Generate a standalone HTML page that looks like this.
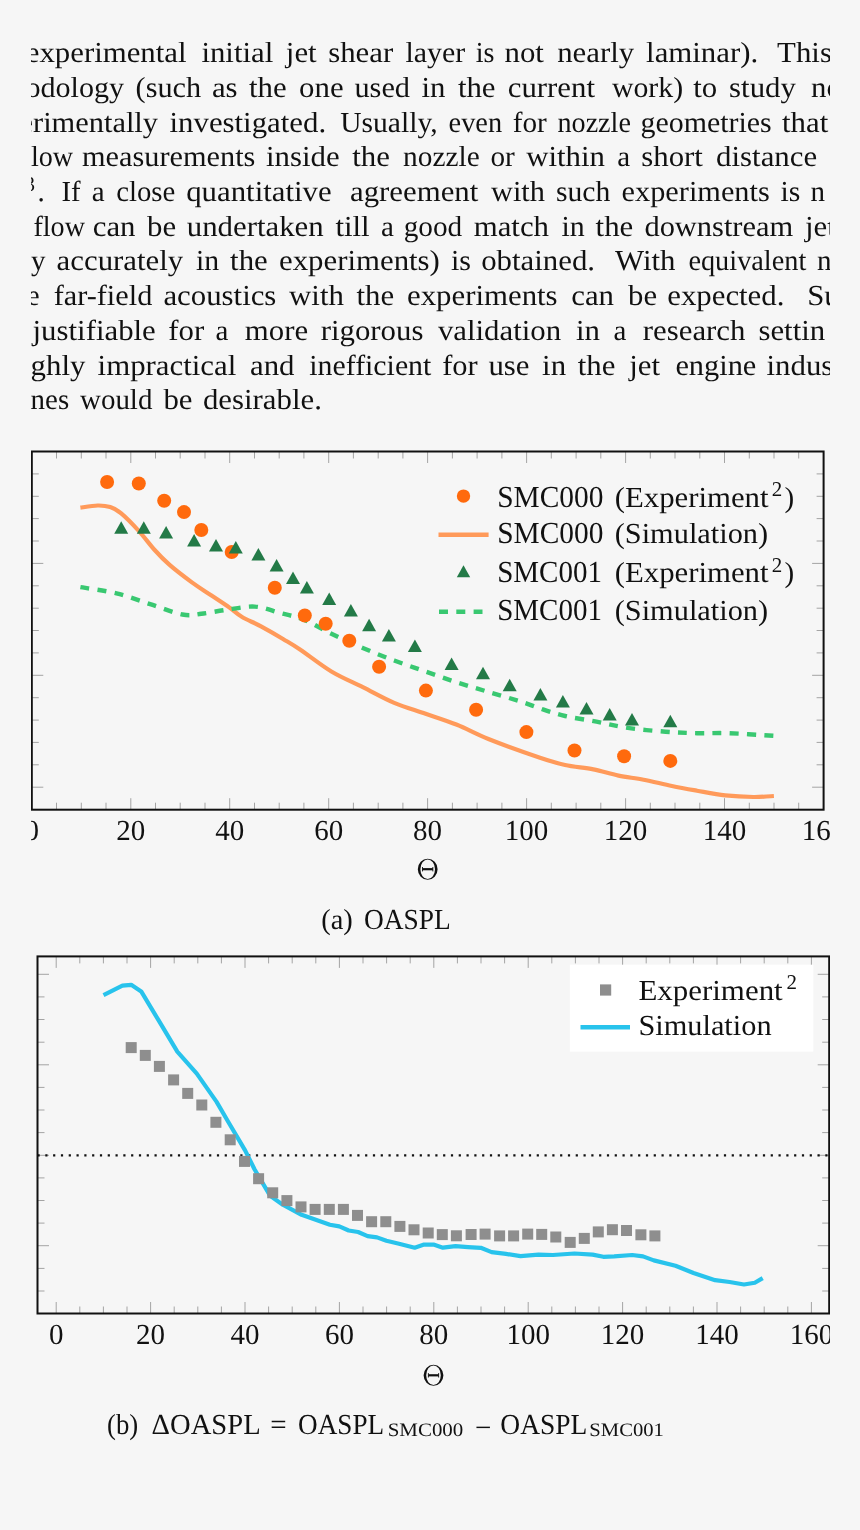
<!DOCTYPE html>
<html><head><meta charset="utf-8">
<style>
html,body{margin:0;padding:0;background:#f6f6f6;}
body{width:860px;height:1530px;overflow:hidden;position:relative;}
svg{position:absolute;left:0;top:0;will-change:transform;}
text{font-family:"Liberation Serif",serif;font-size:29px;fill:#111;text-rendering:geometricPrecision;}
.body text{letter-spacing:0.0px;}
</style></head><body>
<svg width="860" height="1530" viewBox="0 0 860 1530">
<defs><clipPath id="clip"><rect x="31" y="0" width="799" height="1530"/></clipPath></defs>
<g clip-path="url(#clip)">
<g class="body">
<text transform="matrix(1.0627 0 0 1 25.70 62.20)">experimental</text>
<text transform="matrix(1.0627 0 0 1 201.40 62.20)">initial</text>
<text transform="matrix(1.0627 0 0 1 285.86 62.20)">jet</text>
<text transform="matrix(1.0627 0 0 1 328.20 62.20)">shear</text>
<text transform="matrix(1.0310 0 0 1 405.50 62.20)">layer</text>
<text transform="matrix(0.9700 0 0 1 475.80 62.20)">is</text>
<text transform="matrix(1.0627 0 0 1 504.50 62.20)">not</text>
<text transform="matrix(1.0627 0 0 1 557.20 62.20)">nearly</text>
<text transform="matrix(1.0627 0 0 1 646.10 62.20)">laminar).</text>
<text transform="matrix(1.0627 0 0 1 777.10 62.20)">This</text>
<text transform="matrix(1.0385 0 0 1 25.40 96.90)">odology</text>
<text transform="matrix(1.0444 0 0 1 135.60 96.90)">(such</text>
<text transform="matrix(1.0627 0 0 1 211.90 96.90)">as</text>
<text transform="matrix(1.0627 0 0 1 249.00 96.90)">the</text>
<text transform="matrix(1.0627 0 0 1 299.10 96.90)">one</text>
<text transform="matrix(1.0463 0 0 1 354.40 96.90)">used</text>
<text transform="matrix(1.0627 0 0 1 421.40 96.90)">in</text>
<text transform="matrix(1.0627 0 0 1 457.90 96.90)">the</text>
<text transform="matrix(1.0627 0 0 1 507.70 96.90)">current</text>
<text transform="matrix(1.0275 0 0 1 611.90 96.90)">work)</text>
<text transform="matrix(1.0627 0 0 1 693.30 96.90)">to</text>
<text transform="matrix(1.0627 0 0 1 729.10 96.90)">study</text>
<text transform="matrix(1.0627 0 0 1 811.00 96.90)">no</text>
<text transform="matrix(1.0489 0 0 1 19.50 131.60)">erimentally</text>
<text transform="matrix(1.0627 0 0 1 169.50 131.60)">investigated.</text>
<text transform="matrix(1.0198 0 0 1 340.20 131.60)">Usually,</text>
<text transform="matrix(0.9764 0 0 1 448.60 131.60)">even</text>
<text transform="matrix(1.0059 0 0 1 512.80 131.60)">for</text>
<text transform="matrix(0.9700 0 0 1 557.50 131.60)">nozzle</text>
<text transform="matrix(1.0315 0 0 1 640.50 131.60)">geometries</text>
<text transform="matrix(1.0627 0 0 1 782.00 131.60)">that</text>
<text transform="matrix(0.9700 0 0 1 30.90 166.30)">low</text>
<text transform="matrix(1.0452 0 0 1 82.00 166.30)">measurements</text>
<text transform="matrix(1.0627 0 0 1 266.00 166.30)">inside</text>
<text transform="matrix(1.0627 0 0 1 352.30 166.30)">the</text>
<text transform="matrix(1.0118 0 0 1 403.10 166.30)">nozzle</text>
<text transform="matrix(1.0080 0 0 1 490.50 166.30)">or</text>
<text transform="matrix(1.0627 0 0 1 526.20 166.30)">within</text>
<text x="617.2" y="166.3">a</text>
<text transform="matrix(1.0627 0 0 1 641.30 166.30)">short</text>
<text transform="matrix(1.0627 0 0 1 716.10 166.30)">distance</text>
<text x="37.6" y="201.0">.</text>
<text transform="matrix(0.9900 0 0 1 61.50 201.00)">If</text>
<text x="91.8" y="201.0">a</text>
<text transform="matrix(0.9917 0 0 1 116.20 201.00)">close</text>
<text transform="matrix(1.0627 0 0 1 186.20 201.00)">quantitative</text>
<text transform="matrix(1.0627 0 0 1 350.00 201.00)">agreement</text>
<text transform="matrix(1.0462 0 0 1 491.00 201.00)">with</text>
<text transform="matrix(1.0222 0 0 1 555.90 201.00)">such</text>
<text transform="matrix(1.0451 0 0 1 621.60 201.00)">experiments</text>
<text transform="matrix(1.0263 0 0 1 780.50 201.00)">is</text>
<text x="810.5" y="201.0">n</text>
<text transform="matrix(0.9700 0 0 1 33.40 235.70)">flow</text>
<text transform="matrix(1.0627 0 0 1 92.70 235.70)">can</text>
<text transform="matrix(1.0627 0 0 1 147.10 235.70)">be</text>
<text transform="matrix(1.0627 0 0 1 186.80 235.70)">undertaken</text>
<text transform="matrix(1.0627 0 0 1 335.40 235.70)">till</text>
<text x="381.0" y="235.7">a</text>
<text transform="matrix(1.0085 0 0 1 403.70 235.70)">good</text>
<text transform="matrix(1.0627 0 0 1 473.70 235.70)">match</text>
<text transform="matrix(1.0304 0 0 1 561.40 235.70)">in</text>
<text transform="matrix(1.0627 0 0 1 595.60 235.70)">the</text>
<text transform="matrix(1.0500 0 0 1 644.40 235.70)">downstream</text>
<text transform="matrix(1.0627 0 0 1 805.06 235.70)">jet</text>
<text x="30.9" y="270.4">y</text>
<text transform="matrix(1.0627 0 0 1 56.60 270.40)">accurately</text>
<text transform="matrix(1.0261 0 0 1 196.00 270.40)">in</text>
<text transform="matrix(1.0627 0 0 1 230.10 270.40)">the</text>
<text transform="matrix(1.0627 0 0 1 279.00 270.40)">experiments)</text>
<text transform="matrix(1.0368 0 0 1 451.00 270.40)">is</text>
<text transform="matrix(1.0627 0 0 1 481.20 270.40)">obtained.</text>
<text transform="matrix(1.0627 0 0 1 615.10 270.40)">With</text>
<text transform="matrix(0.9760 0 0 1 688.40 270.40)">equivalent</text>
<text x="817.0" y="270.4">n</text>
<text x="26.8" y="305.1">e</text>
<text transform="matrix(1.0442 0 0 1 53.70 305.10)">far-field</text>
<text transform="matrix(1.0627 0 0 1 163.40 305.10)">acoustics</text>
<text transform="matrix(1.0627 0 0 1 289.10 305.10)">with</text>
<text transform="matrix(1.0627 0 0 1 356.50 305.10)">the</text>
<text transform="matrix(1.0627 0 0 1 407.00 305.10)">experiments</text>
<text transform="matrix(1.0627 0 0 1 571.20 305.10)">can</text>
<text transform="matrix(1.0593 0 0 1 628.10 305.10)">be</text>
<text transform="matrix(1.0627 0 0 1 667.20 305.10)">expected.</text>
<text transform="matrix(1.0627 0 0 1 807.20 305.10)">Su</text>
<text transform="matrix(1.0627 0 0 1 32.56 339.80)">justifiable</text>
<text transform="matrix(1.0627 0 0 1 168.30 339.80)">for</text>
<text x="215.5" y="339.8">a</text>
<text transform="matrix(1.0627 0 0 1 244.80 339.80)">more</text>
<text transform="matrix(1.0627 0 0 1 320.70 339.80)">rigorous</text>
<text transform="matrix(1.0627 0 0 1 437.90 339.80)">validation</text>
<text transform="matrix(1.0627 0 0 1 576.00 339.80)">in</text>
<text x="613.5" y="339.8">a</text>
<text transform="matrix(1.0627 0 0 1 642.80 339.80)">research</text>
<text transform="matrix(1.0627 0 0 1 758.40 339.80)">settin</text>
<text transform="matrix(1.0627 0 0 1 30.60 374.50)">ghly</text>
<text transform="matrix(1.0627 0 0 1 97.60 374.50)">impractical</text>
<text transform="matrix(1.0627 0 0 1 250.00 374.50)">and</text>
<text transform="matrix(1.0286 0 0 1 309.30 374.50)">inefficient</text>
<text transform="matrix(1.0500 0 0 1 442.20 374.50)">for</text>
<text transform="matrix(1.0627 0 0 1 488.40 374.50)">use</text>
<text transform="matrix(1.0627 0 0 1 542.10 374.50)">in</text>
<text transform="matrix(1.0627 0 0 1 577.70 374.50)">the</text>
<text transform="matrix(1.0627 0 0 1 629.16 374.50)">jet</text>
<text transform="matrix(1.0468 0 0 1 675.40 374.50)">engine</text>
<text transform="matrix(1.0627 0 0 1 766.50 374.50)">indus</text>
<text transform="matrix(0.9974 0 0 1 30.60 409.20)">nes</text>
<text transform="matrix(0.9986 0 0 1 80.00 409.20)">would</text>
<text transform="matrix(1.0627 0 0 1 163.40 409.20)">be</text>
<text transform="matrix(1.0627 0 0 1 202.90 409.20)">desirable.</text>
<text x="24.6" y="190.8" style="font-size:21px">3</text>
</g>
<!-- chart A -->
<g stroke="#a4a4a4" stroke-width="1">
<line x1="56.5" y1="809.7" x2="56.5" y2="802.7"/>
<line x1="56.5" y1="451.5" x2="56.5" y2="458.5"/>
<line x1="81.3" y1="809.7" x2="81.3" y2="802.7"/>
<line x1="81.3" y1="451.5" x2="81.3" y2="458.5"/>
<line x1="106.0" y1="809.7" x2="106.0" y2="802.7"/>
<line x1="106.0" y1="451.5" x2="106.0" y2="458.5"/>
<line x1="130.8" y1="809.7" x2="130.8" y2="798.2"/>
<line x1="130.8" y1="451.5" x2="130.8" y2="463.0"/>
<line x1="155.5" y1="809.7" x2="155.5" y2="802.7"/>
<line x1="155.5" y1="451.5" x2="155.5" y2="458.5"/>
<line x1="180.2" y1="809.7" x2="180.2" y2="802.7"/>
<line x1="180.2" y1="451.5" x2="180.2" y2="458.5"/>
<line x1="205.0" y1="809.7" x2="205.0" y2="802.7"/>
<line x1="205.0" y1="451.5" x2="205.0" y2="458.5"/>
<line x1="229.7" y1="809.7" x2="229.7" y2="798.2"/>
<line x1="229.7" y1="451.5" x2="229.7" y2="463.0"/>
<line x1="254.5" y1="809.7" x2="254.5" y2="802.7"/>
<line x1="254.5" y1="451.5" x2="254.5" y2="458.5"/>
<line x1="279.2" y1="809.7" x2="279.2" y2="802.7"/>
<line x1="279.2" y1="451.5" x2="279.2" y2="458.5"/>
<line x1="303.9" y1="809.7" x2="303.9" y2="802.7"/>
<line x1="303.9" y1="451.5" x2="303.9" y2="458.5"/>
<line x1="328.7" y1="809.7" x2="328.7" y2="798.2"/>
<line x1="328.7" y1="451.5" x2="328.7" y2="463.0"/>
<line x1="353.4" y1="809.7" x2="353.4" y2="802.7"/>
<line x1="353.4" y1="451.5" x2="353.4" y2="458.5"/>
<line x1="378.2" y1="809.7" x2="378.2" y2="802.7"/>
<line x1="378.2" y1="451.5" x2="378.2" y2="458.5"/>
<line x1="402.9" y1="809.7" x2="402.9" y2="802.7"/>
<line x1="402.9" y1="451.5" x2="402.9" y2="458.5"/>
<line x1="427.6" y1="809.7" x2="427.6" y2="798.2"/>
<line x1="427.6" y1="451.5" x2="427.6" y2="463.0"/>
<line x1="452.4" y1="809.7" x2="452.4" y2="802.7"/>
<line x1="452.4" y1="451.5" x2="452.4" y2="458.5"/>
<line x1="477.1" y1="809.7" x2="477.1" y2="802.7"/>
<line x1="477.1" y1="451.5" x2="477.1" y2="458.5"/>
<line x1="501.9" y1="809.7" x2="501.9" y2="802.7"/>
<line x1="501.9" y1="451.5" x2="501.9" y2="458.5"/>
<line x1="526.6" y1="809.7" x2="526.6" y2="798.2"/>
<line x1="526.6" y1="451.5" x2="526.6" y2="463.0"/>
<line x1="551.3" y1="809.7" x2="551.3" y2="802.7"/>
<line x1="551.3" y1="451.5" x2="551.3" y2="458.5"/>
<line x1="576.1" y1="809.7" x2="576.1" y2="802.7"/>
<line x1="576.1" y1="451.5" x2="576.1" y2="458.5"/>
<line x1="600.8" y1="809.7" x2="600.8" y2="802.7"/>
<line x1="600.8" y1="451.5" x2="600.8" y2="458.5"/>
<line x1="625.6" y1="809.7" x2="625.6" y2="798.2"/>
<line x1="625.6" y1="451.5" x2="625.6" y2="463.0"/>
<line x1="650.3" y1="809.7" x2="650.3" y2="802.7"/>
<line x1="650.3" y1="451.5" x2="650.3" y2="458.5"/>
<line x1="675.0" y1="809.7" x2="675.0" y2="802.7"/>
<line x1="675.0" y1="451.5" x2="675.0" y2="458.5"/>
<line x1="699.8" y1="809.7" x2="699.8" y2="802.7"/>
<line x1="699.8" y1="451.5" x2="699.8" y2="458.5"/>
<line x1="724.5" y1="809.7" x2="724.5" y2="798.2"/>
<line x1="724.5" y1="451.5" x2="724.5" y2="463.0"/>
<line x1="749.3" y1="809.7" x2="749.3" y2="802.7"/>
<line x1="749.3" y1="451.5" x2="749.3" y2="458.5"/>
<line x1="774.0" y1="809.7" x2="774.0" y2="802.7"/>
<line x1="774.0" y1="451.5" x2="774.0" y2="458.5"/>
<line x1="798.7" y1="809.7" x2="798.7" y2="802.7"/>
<line x1="798.7" y1="451.5" x2="798.7" y2="458.5"/>
<line x1="31.8" y1="473.9" x2="38.8" y2="473.9"/>
<line x1="823.6" y1="473.9" x2="816.6" y2="473.9"/>
<line x1="31.8" y1="496.3" x2="38.8" y2="496.3"/>
<line x1="823.6" y1="496.3" x2="816.6" y2="496.3"/>
<line x1="31.8" y1="518.6" x2="38.8" y2="518.6"/>
<line x1="823.6" y1="518.6" x2="816.6" y2="518.6"/>
<line x1="31.8" y1="541.0" x2="38.8" y2="541.0"/>
<line x1="823.6" y1="541.0" x2="816.6" y2="541.0"/>
<line x1="31.8" y1="563.4" x2="43.3" y2="563.4"/>
<line x1="823.6" y1="563.4" x2="812.1" y2="563.4"/>
<line x1="31.8" y1="585.8" x2="38.8" y2="585.8"/>
<line x1="823.6" y1="585.8" x2="816.6" y2="585.8"/>
<line x1="31.8" y1="608.2" x2="38.8" y2="608.2"/>
<line x1="823.6" y1="608.2" x2="816.6" y2="608.2"/>
<line x1="31.8" y1="630.5" x2="38.8" y2="630.5"/>
<line x1="823.6" y1="630.5" x2="816.6" y2="630.5"/>
<line x1="31.8" y1="652.9" x2="38.8" y2="652.9"/>
<line x1="823.6" y1="652.9" x2="816.6" y2="652.9"/>
<line x1="31.8" y1="675.3" x2="43.3" y2="675.3"/>
<line x1="823.6" y1="675.3" x2="812.1" y2="675.3"/>
<line x1="31.8" y1="697.7" x2="38.8" y2="697.7"/>
<line x1="823.6" y1="697.7" x2="816.6" y2="697.7"/>
<line x1="31.8" y1="720.1" x2="38.8" y2="720.1"/>
<line x1="823.6" y1="720.1" x2="816.6" y2="720.1"/>
<line x1="31.8" y1="742.4" x2="38.8" y2="742.4"/>
<line x1="823.6" y1="742.4" x2="816.6" y2="742.4"/>
<line x1="31.8" y1="764.8" x2="38.8" y2="764.8"/>
<line x1="823.6" y1="764.8" x2="816.6" y2="764.8"/>
<line x1="31.8" y1="787.2" x2="43.3" y2="787.2"/>
<line x1="823.6" y1="787.2" x2="812.1" y2="787.2"/>
</g>
<path fill="none" stroke="#ff9a5a" stroke-width="4.2" stroke-linejoin="round" d="M80.4,507.7 C83.3,507.3 92.7,505.6 97.7,505.5 C102.7,505.4 106.3,505.8 110.2,507.1 C114.1,508.4 116.5,509.5 121.2,513.4 C125.9,517.3 133.0,524.6 138.5,530.6 C144.0,536.6 149.0,543.7 154.2,549.5 C159.4,555.3 163.6,559.7 169.9,565.2 C176.2,570.7 185.1,577.4 191.9,582.4 C198.7,587.4 204.4,590.8 210.7,595.0 C217.0,599.2 224.3,603.9 229.5,607.6 C234.7,611.3 236.8,613.9 242.1,617.0 C247.3,620.1 254.2,622.7 261.0,626.4 C267.8,630.1 276.5,635.1 283.0,639.0 C289.5,642.9 291.9,644.1 300.0,649.5 C308.1,654.9 320.9,665.2 331.4,671.5 C341.9,677.8 352.3,682.0 362.8,687.2 C373.3,692.4 383.7,698.5 394.2,702.9 C404.7,707.3 415.1,710.1 425.6,713.8 C436.1,717.4 446.5,720.6 457.0,724.8 C467.5,729.0 474.6,733.5 488.4,739.0 C502.2,744.5 527.2,753.4 540.0,757.7 C552.8,762.0 556.2,763.0 565.1,765.0 C574.0,767.0 584.5,767.6 593.4,769.4 C602.3,771.2 610.1,773.9 618.5,775.6 C626.9,777.3 634.7,778.0 643.6,779.7 C652.5,781.4 663.0,784.2 671.9,786.0 C680.8,787.8 688.1,789.1 697.0,790.7 C705.9,792.3 715.8,794.4 725.2,795.4 C734.6,796.4 745.4,796.9 753.5,797.0 C761.6,797.1 770.5,796.2 773.9,796.0"/>
<path fill="none" stroke="#39c871" stroke-width="4.4" stroke-dasharray="9 8.3" d="M80.4,587.2 C86.4,588.2 104.7,590.5 116.5,593.4 C128.3,596.3 140.0,600.9 151.0,604.4 C162.0,607.9 174.0,612.9 182.4,614.5 C190.8,616.1 194.0,614.6 201.3,613.8 C208.6,613.0 217.5,611.0 226.4,609.8 C235.3,608.6 245.8,606.1 254.7,606.6 C263.6,607.1 271.4,610.6 279.8,612.9 C288.2,615.1 296.3,616.6 304.9,620.1 C313.5,623.6 321.8,629.2 331.4,633.8 C341.0,638.4 352.3,643.4 362.8,647.9 C373.3,652.4 383.7,656.6 394.2,660.5 C404.7,664.4 415.1,667.9 425.6,671.5 C436.1,675.1 446.5,679.0 457.0,682.4 C467.5,685.8 477.9,688.8 488.4,691.9 C498.9,695.0 511.2,698.5 519.8,701.3 C528.4,704.0 532.5,705.9 540.0,708.4 C547.5,710.9 555.7,713.8 565.1,716.0 C574.5,718.2 586.0,719.6 596.5,721.6 C607.0,723.6 616.4,726.2 627.9,727.9 C639.4,729.6 654.1,730.8 665.6,731.7 C677.1,732.6 686.5,733.0 697.0,733.2 C707.5,733.5 715.6,732.8 728.4,733.2 C741.2,733.6 766.3,735.4 773.9,735.8"/>
<g fill="#ff6a0d"><circle cx="107.1" cy="482.0" r="7"/><circle cx="138.8" cy="483.5" r="7"/><circle cx="164.2" cy="500.8" r="7"/><circle cx="184.0" cy="512.1" r="7"/><circle cx="201.3" cy="530.0" r="7"/><circle cx="231.7" cy="552.0" r="7"/><circle cx="274.8" cy="587.8" r="7"/><circle cx="304.8" cy="615.5" r="7"/><circle cx="325.7" cy="623.8" r="7"/><circle cx="349.3" cy="640.7" r="7"/><circle cx="379.1" cy="666.8" r="7"/><circle cx="425.9" cy="690.6" r="7"/><circle cx="476.1" cy="709.8" r="7"/><circle cx="526.4" cy="732.1" r="7"/><circle cx="574.5" cy="750.5" r="7"/><circle cx="624.1" cy="756.2" r="7"/><circle cx="670.3" cy="760.9" r="7"/></g>
<g fill="#237a47"><polygon points="114.2,533.8 128.2,533.8 121.2,521.2"/><polygon points="136.8,533.8 150.8,533.8 143.8,521.2"/><polygon points="159.1,538.5 173.1,538.5 166.1,526.0"/><polygon points="187.1,546.4 201.1,546.4 194.1,533.9"/><polygon points="209.0,551.6 223.0,551.6 216.0,539.1"/><polygon points="228.8,553.5 242.8,553.5 235.8,541.0"/><polygon points="251.4,560.5 265.4,560.5 258.4,548.0"/><polygon points="269.6,571.5 283.6,571.5 276.6,559.0"/><polygon points="286.0,584.0 300.0,584.0 293.0,571.5"/><polygon points="299.9,593.6 313.9,593.6 306.9,581.1"/><polygon points="322.2,604.9 336.2,604.9 329.2,592.4"/><polygon points="343.9,616.5 357.9,616.5 350.9,604.0"/><polygon points="362.1,631.2 376.1,631.2 369.1,618.8"/><polygon points="381.9,641.6 395.9,641.6 388.9,629.1"/><polygon points="407.9,652.0 421.9,652.0 414.9,639.5"/><polygon points="444.6,669.9 458.6,669.9 451.6,657.4"/><polygon points="476.0,679.2 490.0,679.2 483.0,666.8"/><polygon points="502.7,691.2 516.7,691.2 509.7,678.8"/><polygon points="533.4,700.5 547.4,700.5 540.4,688.0"/><polygon points="555.9,707.5 569.9,707.5 562.9,695.0"/><polygon points="579.5,714.6 593.5,714.6 586.5,702.1"/><polygon points="602.7,720.6 616.7,720.6 609.7,708.1"/><polygon points="625.0,725.4 639.0,725.4 632.0,712.9"/><polygon points="663.3,727.2 677.3,727.2 670.3,714.8"/></g>
<rect x="31.8" y="451.5" width="791.8" height="358.2" fill="none" stroke="#111" stroke-width="2"/>
<g>
<text x="31.8" y="840" text-anchor="middle">0</text>
<text x="130.8" y="840" text-anchor="middle">20</text>
<text x="229.7" y="840" text-anchor="middle">40</text>
<text x="328.7" y="840" text-anchor="middle">60</text>
<text x="427.6" y="840" text-anchor="middle">80</text>
<text x="526.6" y="840" text-anchor="middle">100</text>
<text x="625.6" y="840" text-anchor="middle">120</text>
<text x="724.5" y="840" text-anchor="middle">140</text>
<text x="823.5" y="840" text-anchor="middle">160</text>
</g>
<path fill="#111" fill-rule="evenodd" d="M417.80,869.20 a9.9,10.5 0 1,0 19.80,0 a9.9,10.5 0 1,0 -19.80,0 Z M420.40,869.20 a7.3,9.8 0 1,0 14.60,0 a7.3,9.8 0 1,0 -14.60,0 Z"/><rect x="422.50" y="868.10" width="10.4" height="2.2" fill="#111"/><rect x="422.10" y="867.00" width="0.9" height="4.4" fill="#111"/><rect x="432.40" y="867.00" width="0.9" height="4.4" fill="#111"/>
<text transform="matrix(0.9812 0 0 1 321.20 928.70)">(a)</text>
<text transform="matrix(0.9457 0 0 1 363.90 928.70)">OASPL</text>
<!-- legend A -->
<circle cx="463.5" cy="496.1" r="6.7" fill="#ff6a0d"/>
<line x1="438.5" y1="534.7" x2="488.6" y2="534.7" stroke="#ff9a5a" stroke-width="4.4"/>
<g fill="#237a47"><polygon points="456.8,577.3 470.2,577.3 463.5,565.3"/></g>
<line x1="439" y1="611.7" x2="482.5" y2="611.7" stroke="#39c871" stroke-width="4.5" stroke-dasharray="9 8.3"/>
<text transform="matrix(0.9636 0 0 1 497.20 506.60)" style="font-size:30.5px">SMC000</text>
<text transform="matrix(1.0614 0 0 1 614.70 506.60)">(Experiment</text>
<text x="771.7" y="496.0" style="font-size:21px">2</text>
<text x="784.6" y="506.6">)</text>
<text transform="matrix(0.9636 0 0 1 497.20 543.30)" style="font-size:30.5px">SMC000</text>
<text transform="matrix(1.0463 0 0 1 614.70 543.30)">(Simulation)</text>
<text transform="matrix(0.9500 0 0 1 497.20 582.30)" style="font-size:30.5px">SMC001</text>
<text transform="matrix(1.0614 0 0 1 614.70 582.30)">(Experiment</text>
<text x="771.7" y="571.7" style="font-size:21px">2</text>
<text x="784.6" y="582.3">)</text>
<text transform="matrix(0.9500 0 0 1 497.20 619.50)" style="font-size:30.5px">SMC001</text>
<text transform="matrix(1.0463 0 0 1 614.70 619.50)">(Simulation)</text>

<!-- chart B -->
<g stroke="#a4a4a4" stroke-width="1">
<line x1="56.2" y1="1313.5" x2="56.2" y2="1302.0"/>
<line x1="56.2" y1="956.4" x2="56.2" y2="967.9"/>
<line x1="79.8" y1="1313.5" x2="79.8" y2="1306.5"/>
<line x1="79.8" y1="956.4" x2="79.8" y2="963.4"/>
<line x1="103.4" y1="1313.5" x2="103.4" y2="1306.5"/>
<line x1="103.4" y1="956.4" x2="103.4" y2="963.4"/>
<line x1="127.0" y1="1313.5" x2="127.0" y2="1306.5"/>
<line x1="127.0" y1="956.4" x2="127.0" y2="963.4"/>
<line x1="150.6" y1="1313.5" x2="150.6" y2="1302.0"/>
<line x1="150.6" y1="956.4" x2="150.6" y2="967.9"/>
<line x1="174.2" y1="1313.5" x2="174.2" y2="1306.5"/>
<line x1="174.2" y1="956.4" x2="174.2" y2="963.4"/>
<line x1="197.8" y1="1313.5" x2="197.8" y2="1306.5"/>
<line x1="197.8" y1="956.4" x2="197.8" y2="963.4"/>
<line x1="221.4" y1="1313.5" x2="221.4" y2="1306.5"/>
<line x1="221.4" y1="956.4" x2="221.4" y2="963.4"/>
<line x1="245.0" y1="1313.5" x2="245.0" y2="1302.0"/>
<line x1="245.0" y1="956.4" x2="245.0" y2="967.9"/>
<line x1="268.6" y1="1313.5" x2="268.6" y2="1306.5"/>
<line x1="268.6" y1="956.4" x2="268.6" y2="963.4"/>
<line x1="292.2" y1="1313.5" x2="292.2" y2="1306.5"/>
<line x1="292.2" y1="956.4" x2="292.2" y2="963.4"/>
<line x1="315.8" y1="1313.5" x2="315.8" y2="1306.5"/>
<line x1="315.8" y1="956.4" x2="315.8" y2="963.4"/>
<line x1="339.4" y1="1313.5" x2="339.4" y2="1302.0"/>
<line x1="339.4" y1="956.4" x2="339.4" y2="967.9"/>
<line x1="363.0" y1="1313.5" x2="363.0" y2="1306.5"/>
<line x1="363.0" y1="956.4" x2="363.0" y2="963.4"/>
<line x1="386.6" y1="1313.5" x2="386.6" y2="1306.5"/>
<line x1="386.6" y1="956.4" x2="386.6" y2="963.4"/>
<line x1="410.2" y1="1313.5" x2="410.2" y2="1306.5"/>
<line x1="410.2" y1="956.4" x2="410.2" y2="963.4"/>
<line x1="433.8" y1="1313.5" x2="433.8" y2="1302.0"/>
<line x1="433.8" y1="956.4" x2="433.8" y2="967.9"/>
<line x1="457.4" y1="1313.5" x2="457.4" y2="1306.5"/>
<line x1="457.4" y1="956.4" x2="457.4" y2="963.4"/>
<line x1="481.0" y1="1313.5" x2="481.0" y2="1306.5"/>
<line x1="481.0" y1="956.4" x2="481.0" y2="963.4"/>
<line x1="504.6" y1="1313.5" x2="504.6" y2="1306.5"/>
<line x1="504.6" y1="956.4" x2="504.6" y2="963.4"/>
<line x1="528.2" y1="1313.5" x2="528.2" y2="1302.0"/>
<line x1="528.2" y1="956.4" x2="528.2" y2="967.9"/>
<line x1="551.8" y1="1313.5" x2="551.8" y2="1306.5"/>
<line x1="551.8" y1="956.4" x2="551.8" y2="963.4"/>
<line x1="575.4" y1="1313.5" x2="575.4" y2="1306.5"/>
<line x1="575.4" y1="956.4" x2="575.4" y2="963.4"/>
<line x1="599.0" y1="1313.5" x2="599.0" y2="1306.5"/>
<line x1="599.0" y1="956.4" x2="599.0" y2="963.4"/>
<line x1="622.6" y1="1313.5" x2="622.6" y2="1302.0"/>
<line x1="622.6" y1="956.4" x2="622.6" y2="967.9"/>
<line x1="646.2" y1="1313.5" x2="646.2" y2="1306.5"/>
<line x1="646.2" y1="956.4" x2="646.2" y2="963.4"/>
<line x1="669.8" y1="1313.5" x2="669.8" y2="1306.5"/>
<line x1="669.8" y1="956.4" x2="669.8" y2="963.4"/>
<line x1="693.4" y1="1313.5" x2="693.4" y2="1306.5"/>
<line x1="693.4" y1="956.4" x2="693.4" y2="963.4"/>
<line x1="717.0" y1="1313.5" x2="717.0" y2="1302.0"/>
<line x1="717.0" y1="956.4" x2="717.0" y2="967.9"/>
<line x1="740.6" y1="1313.5" x2="740.6" y2="1306.5"/>
<line x1="740.6" y1="956.4" x2="740.6" y2="963.4"/>
<line x1="764.2" y1="1313.5" x2="764.2" y2="1306.5"/>
<line x1="764.2" y1="956.4" x2="764.2" y2="963.4"/>
<line x1="787.8" y1="1313.5" x2="787.8" y2="1306.5"/>
<line x1="787.8" y1="956.4" x2="787.8" y2="963.4"/>
<line x1="811.4" y1="1313.5" x2="811.4" y2="1302.0"/>
<line x1="811.4" y1="956.4" x2="811.4" y2="967.9"/>
<line x1="37.5" y1="974.3" x2="49.0" y2="974.3"/>
<line x1="829.2" y1="974.3" x2="817.7" y2="974.3"/>
<line x1="37.5" y1="996.9" x2="44.5" y2="996.9"/>
<line x1="829.2" y1="996.9" x2="822.2" y2="996.9"/>
<line x1="37.5" y1="1019.5" x2="44.5" y2="1019.5"/>
<line x1="829.2" y1="1019.5" x2="822.2" y2="1019.5"/>
<line x1="37.5" y1="1042.2" x2="44.5" y2="1042.2"/>
<line x1="829.2" y1="1042.2" x2="822.2" y2="1042.2"/>
<line x1="37.5" y1="1064.8" x2="49.0" y2="1064.8"/>
<line x1="829.2" y1="1064.8" x2="817.7" y2="1064.8"/>
<line x1="37.5" y1="1087.4" x2="44.5" y2="1087.4"/>
<line x1="829.2" y1="1087.4" x2="822.2" y2="1087.4"/>
<line x1="37.5" y1="1110.0" x2="44.5" y2="1110.0"/>
<line x1="829.2" y1="1110.0" x2="822.2" y2="1110.0"/>
<line x1="37.5" y1="1132.6" x2="44.5" y2="1132.6"/>
<line x1="829.2" y1="1132.6" x2="822.2" y2="1132.6"/>
<line x1="37.5" y1="1155.3" x2="49.0" y2="1155.3"/>
<line x1="829.2" y1="1155.3" x2="817.7" y2="1155.3"/>
<line x1="37.5" y1="1177.9" x2="44.5" y2="1177.9"/>
<line x1="829.2" y1="1177.9" x2="822.2" y2="1177.9"/>
<line x1="37.5" y1="1200.5" x2="44.5" y2="1200.5"/>
<line x1="829.2" y1="1200.5" x2="822.2" y2="1200.5"/>
<line x1="37.5" y1="1223.1" x2="44.5" y2="1223.1"/>
<line x1="829.2" y1="1223.1" x2="822.2" y2="1223.1"/>
<line x1="37.5" y1="1245.7" x2="49.0" y2="1245.7"/>
<line x1="829.2" y1="1245.7" x2="817.7" y2="1245.7"/>
<line x1="37.5" y1="1268.4" x2="44.5" y2="1268.4"/>
<line x1="829.2" y1="1268.4" x2="822.2" y2="1268.4"/>
<line x1="37.5" y1="1291.0" x2="44.5" y2="1291.0"/>
<line x1="829.2" y1="1291.0" x2="822.2" y2="1291.0"/>
</g>
<line x1="37.5" y1="1155.4" x2="829.2" y2="1155.4" stroke="#111" stroke-width="2.2" stroke-dasharray="2.2 5.6"/>
<polyline fill="none" stroke="#28c3ec" stroke-width="4.2" stroke-linejoin="round" points="103.5,995.1 122.4,985.7 131.2,984.8 141.2,991.4 158.5,1020.2 177.3,1051.6 196.8,1073.6 216.6,1101.9 227.6,1120.7 245.1,1150.4 254.5,1169.2 270.2,1195.9 282.8,1204.7 301.6,1214.8 329.9,1224.8 339.3,1226.4 348.7,1230.5 358.1,1232.0 367.6,1236.1 377.0,1237.4 386.4,1240.8 399.0,1243.7 414.7,1247.7 424.1,1244.6 433.5,1244.6 442.9,1247.7 455.5,1246.2 468.0,1247.1 480.8,1247.8 491.6,1252.1 506.0,1253.9 520.5,1256.1 538.5,1254.6 552.9,1255.0 574.5,1253.5 592.6,1254.6 603.4,1256.8 614.2,1256.4 632.2,1255.0 643.0,1256.4 653.8,1260.4 675.5,1265.8 693.5,1273.0 715.1,1280.2 729.6,1282.0 744.0,1284.5 754.8,1282.7 762.7,1278.1"/>
<g fill="#8e8e8e"><rect x="125.7" y="1042.1" width="11" height="11"/><rect x="139.8" y="1049.9" width="11" height="11"/><rect x="153.9" y="1060.9" width="11" height="11"/><rect x="168.1" y="1074.4" width="11" height="11"/><rect x="182.2" y="1087.9" width="11" height="11"/><rect x="196.3" y="1099.5" width="11" height="11"/><rect x="210.4" y="1116.8" width="11" height="11"/><rect x="224.7" y="1134.3" width="11" height="11"/><rect x="239.0" y="1155.9" width="11" height="11"/><rect x="253.1" y="1173.2" width="11" height="11"/><rect x="267.2" y="1187.3" width="11" height="11"/><rect x="281.4" y="1195.1" width="11" height="11"/><rect x="295.5" y="1201.4" width="11" height="11"/><rect x="309.6" y="1203.9" width="11" height="11"/><rect x="323.8" y="1203.9" width="11" height="11"/><rect x="337.9" y="1203.9" width="11" height="11"/><rect x="352.0" y="1209.9" width="11" height="11"/><rect x="366.1" y="1216.2" width="11" height="11"/><rect x="380.3" y="1216.2" width="11" height="11"/><rect x="394.4" y="1220.9" width="11" height="11"/><rect x="408.5" y="1224.3" width="11" height="11"/><rect x="422.7" y="1227.5" width="11" height="11"/><rect x="436.8" y="1229.1" width="11" height="11"/><rect x="450.9" y="1230.3" width="11" height="11"/><rect x="465.6" y="1229.0" width="11" height="11"/><rect x="479.6" y="1228.6" width="11" height="11"/><rect x="494.1" y="1230.4" width="11" height="11"/><rect x="508.1" y="1230.4" width="11" height="11"/><rect x="522.2" y="1228.6" width="11" height="11"/><rect x="536.2" y="1228.9" width="11" height="11"/><rect x="550.3" y="1231.5" width="11" height="11"/><rect x="564.7" y="1236.9" width="11" height="11"/><rect x="578.8" y="1232.9" width="11" height="11"/><rect x="592.8" y="1226.4" width="11" height="11"/><rect x="606.9" y="1224.2" width="11" height="11"/><rect x="621.0" y="1225.0" width="11" height="11"/><rect x="635.4" y="1229.3" width="11" height="11"/><rect x="649.4" y="1230.4" width="11" height="11"/></g>
<rect x="569.8" y="964.7" width="243.5" height="86.9" fill="#ffffff"/>
<rect x="600" y="984.4" width="11.2" height="11.2" fill="#8e8e8e"/>
<line x1="580.5" y1="1027.2" x2="630" y2="1027.2" stroke="#28c3ec" stroke-width="4.4"/>
<text transform="matrix(1.0667 0 0 1 638.40 1000.30)">Experiment</text>
<text x="786.4" y="989.3" style="font-size:21px">2</text>
<text transform="matrix(1.0461 0 0 1 638.40 1034.90)">Simulation</text>
<rect x="37.5" y="956.4" width="791.7" height="357.1" fill="none" stroke="#111" stroke-width="2"/>
<g>
<text x="56.2" y="1344" text-anchor="middle">0</text>
<text x="150.6" y="1344" text-anchor="middle">20</text>
<text x="245.0" y="1344" text-anchor="middle">40</text>
<text x="339.4" y="1344" text-anchor="middle">60</text>
<text x="433.8" y="1344" text-anchor="middle">80</text>
<text x="528.2" y="1344" text-anchor="middle">100</text>
<text x="622.6" y="1344" text-anchor="middle">120</text>
<text x="717.0" y="1344" text-anchor="middle">140</text>
<text x="811.4" y="1344" text-anchor="middle">160</text>
</g>
<path fill="#111" fill-rule="evenodd" d="M423.60,1375.30 a9.9,10.5 0 1,0 19.80,0 a9.9,10.5 0 1,0 -19.80,0 Z M426.20,1375.30 a7.3,9.8 0 1,0 14.60,0 a7.3,9.8 0 1,0 -14.60,0 Z"/><rect x="428.30" y="1374.20" width="10.4" height="2.2" fill="#111"/><rect x="427.90" y="1373.10" width="0.9" height="4.4" fill="#111"/><rect x="438.20" y="1373.10" width="0.9" height="4.4" fill="#111"/>
<text transform="matrix(0.9235 0 0 1 107.00 1433.60)">(b)</text>
<text transform="matrix(0.9865 0 0 1 151.60 1433.60)">ΔOASPL</text>
<text x="270.2" y="1433.6">=</text>
<text transform="matrix(0.9370 0 0 1 298.10 1433.60)">OASPL</text>
<text transform="matrix(1.1014 0 0 1 387.70 1435.70)" style="font-size:19px">SMC000</text>
<text x="474.9" y="1436.6">−</text>
<text transform="matrix(0.9478 0 0 1 500.30 1433.60)">OASPL</text>
<text transform="matrix(1.0870 0 0 1 589.30 1435.70)" style="font-size:19px">SMC001</text>
</g>
</svg>
</body></html>
